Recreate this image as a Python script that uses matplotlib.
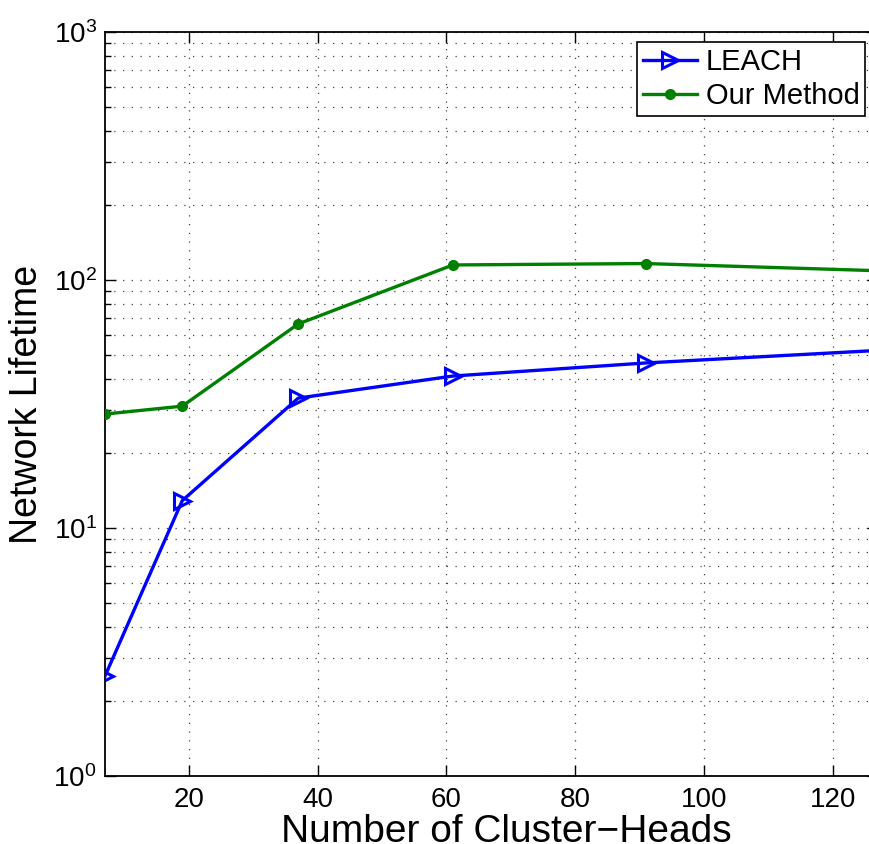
import numpy as np
import matplotlib
matplotlib.use("Agg")
from matplotlib import pyplot as plt
from matplotlib.ticker import LogLocator, NullFormatter, FixedLocator

plt.rcParams['font.family'] = ['Liberation Sans', 'DejaVu Sans']
plt.rcParams['mathtext.fontset'] = 'custom'
plt.rcParams['mathtext.rm'] = 'Liberation Sans'
plt.rcParams['mathtext.it'] = 'Liberation Sans'

# cluster-head counts (hexagonal numbers) and measured lifetimes
clusterHeads = [7, 19, 37, 61, 91, 127]
leachLifetime = [2.53, 12.9, 33.4, 41.0, 46.3, 52.0]
ourLifetime = [28.8, 31.0, 66.5, 115.0, 116.5, 109.0]
xTicks = [20, 40, 60, 80, 100, 120]

W, H = 869, 844
fig = plt.figure(figsize=(W / 100, H / 100), dpi=100)
ax = fig.add_axes([105 / W, (H - 776) / H, (878 - 105) / W, (776 - 32) / H])

ax.plot(clusterHeads, leachLifetime, color='#0000ff', linewidth=2.4,
        marker='>', markersize=11, markerfacecolor='none',
        markeredgecolor='#0000ff', markeredgewidth=2.2, label='LEACH', zorder=3)
ax.plot(clusterHeads, ourLifetime, color='#008000', linewidth=2.4,
        marker='o', markersize=7, markerfacecolor='#008000',
        markeredgecolor='#008000', label='Our Method', zorder=3)

ax.set_yscale('log')
ax.set_ylim(1, 1000)
ax.set_xlim(7, 127)
ax.xaxis.set_major_locator(FixedLocator(xTicks))
ax.yaxis.set_major_locator(LogLocator(base=10))
ax.yaxis.set_minor_locator(LogLocator(base=10, subs=np.arange(2, 10)))
ax.yaxis.set_minor_formatter(NullFormatter())

# dotted grid lines, matlab style
ax.grid(True, which='major', linestyle=(0, (1, 6)), color='#444444', linewidth=0.9)
ax.grid(True, which='minor', axis='y', linestyle=(0, (1, 6)), color='#444444', linewidth=0.9)

ax.tick_params(which='both', direction='in', top=True, right=True,
               labelsize=20, width=1.0)
ax.tick_params(which='major', length=8)
ax.tick_params(axis='x', which='major', pad=8)
ax.tick_params(axis='y', which='major', pad=6)
ax.tick_params(which='minor', length=4)
for sp in ax.spines.values():
    sp.set_linewidth(1.3)

ax.set_xlabel('Number of Cluster\u2212Heads', fontsize=28)
ax.xaxis.set_label_coords((506 - 105) / 773, -(814 - 776) / 744, transform=ax.transAxes)
ax.xaxis.label.set_va('top')
ax.set_ylabel('Network Lifetime', fontsize=27, labelpad=6)

leg = ax.legend(loc='upper left', bbox_to_anchor=(637 / W, 1 - 42 / H),
                bbox_transform=fig.transFigure, borderaxespad=0,
                fontsize=21, frameon=True, fancybox=False,
                handlelength=1.85, handletextpad=0.3,
                borderpad=0.2, labelspacing=0.22)
leg.get_frame().set_edgecolor('black')
leg.get_frame().set_linewidth(1.2)
leg.get_frame().set_alpha(1)

fig.savefig('out.png', dpi=100)
